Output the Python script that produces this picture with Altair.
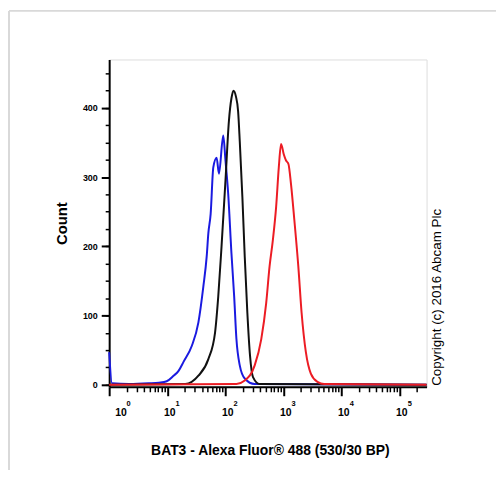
import altair as alt
import pandas as pd

# ---- data ----
blue_x = [1.0, 1.12, 2.2, 4.8, 7.2, 9.8, 12.9, 15.7, 19.1, 26.5, 34.5, 42, 47.9, 51.2, 56.1,
          62.3, 71, 78, 92.4, 101, 112.5, 128, 142.5, 156, 178, 217, 322, 295000]
blue_y = [47, 2, 1, 2, 3, 5, 13, 20, 33, 56, 90, 142, 185, 219, 247,
          314, 328, 305, 360, 324, 276, 190, 128, 66, 28, 9, 1, 0]

black_x = [1, 20.5, 34.5, 51.2, 66.7, 75.9, 86.4, 101, 115.7, 128, 138.7, 152.4, 166.8, 178,
           197.6, 217, 240.6, 267.5, 301, 392, 295000]
black_y = [0, 1, 13, 37, 75, 128, 200, 295, 381, 414, 425, 417, 395, 352,
           271, 185, 104, 42, 11, 1, 0]

red_x = [1, 156, 217, 322, 418, 508, 581, 662, 754, 838, 917, 1020, 1117, 1228, 1360, 1553,
         1818, 2071, 2454, 2988, 3890, 5060, 295000]
red_y = [0, 1, 6, 28, 66, 118, 171, 209, 257, 314, 348, 333, 324, 319, 290, 238,
         171, 104, 47, 16, 4, 1, 0]

decades = [1, 10, 100, 1000, 10000, 100000]
exponents = ["0", "1", "2", "3", "4", "5"]
minor_x = [k * d for d in decades for k in range(2, 10) if k * d < 295000]
y_major = [0, 100, 200, 300, 400]
y_minor = [0, 25, 50, 75, 100, 125, 150, 175, 200, 225, 250, 275, 300, 325, 350, 375, 400, 425, 450]

x_title = "BAT3 - Alexa Fluor® 488 (530/30 BP)"
y_title = "Count"
copyright_text = "Copyright (c) 2016 Abcam Plc"

W, H = 320, 330
FONT = "Liberation Sans"

xscale = alt.Scale(type="log", domain=[1, 295000])
yscale = alt.Scale(domain=[-3, 470], nice=False, zero=False)

def frame(xs, ys):
    return pd.DataFrame({"intensity": xs, "count": ys})

x_major_axis = alt.Axis(values=decades, tickSize=9, tickWidth=2, tickColor="black",
                        labels=False, domainColor="black", domainWidth=2, grid=False,
                        orient="bottom", title=x_title, titleFont=FONT, titleFontSize=14,
                        titleFontWeight="bold", titleColor="black", titleX=162, titleY=64,
                        titleBaseline="middle", titleAlign="center")
y_major_axis = alt.Axis(values=y_major, tickSize=8, tickWidth=2, tickColor="black",
                        labelFont=FONT, labelFontSize=9, labelFontWeight="bold",
                        labelColor="black", labelPadding=4, domainColor="black",
                        domainWidth=2, grid=False, orient="left", title=y_title,
                        titleFont=FONT, titleFontSize=15, titleFontWeight="bold",
                        titleColor="black", titleX=-48, titleY=H / 2, titleAngle=-90,
                        titleBaseline="middle", titleAlign="center")

def line(xs, ys, color, axes=False):
    return alt.Chart(frame(xs, ys)).mark_line(
        strokeWidth=2, color=color, interpolate="monotone", strokeJoin="round").encode(
        x=alt.X("intensity:Q", scale=xscale, axis=x_major_axis if axes else None),
        y=alt.Y("count:Q", scale=yscale, axis=y_major_axis if axes else None),
    )

blue = line(blue_x, blue_y, "#1a1ae0", axes=True)
black = line(black_x, black_y, "#111111")
red = line(red_x, red_y, "#ec1c24")

# minor ticks via second axes
minor_xdf = pd.DataFrame({"intensity": minor_x})
minor_x_layer = alt.Chart(minor_xdf).mark_point(opacity=0).encode(
    x=alt.X("intensity:Q", scale=xscale,
            axis=alt.Axis(values=minor_x, tickSize=5, tickWidth=1.5, tickColor="black",
                          labels=False, domain=False, grid=False, orient="bottom", title=None)),
    y=alt.value(H),
)
minor_ydf = pd.DataFrame({"count": y_minor})
minor_y_layer = alt.Chart(minor_ydf).mark_point(opacity=0).encode(
    y=alt.Y("count:Q", scale=yscale,
            axis=alt.Axis(values=y_minor, tickSize=4, tickWidth=1.5, tickColor="black",
                          labels=False, domain=False, grid=False, orient="left", title=None)),
    x=alt.value(0),
)

lab = pd.DataFrame({"intensity": decades, "base": ["10"] * 6, "exp": exponents})
def labels(cond, dx_base, dx_exp):
    base = alt.Chart(lab).transform_filter(cond).mark_text(
        font=FONT, fontSize=10.5, fontWeight="bold", color="black", baseline="middle",
        align="center", dx=dx_base).encode(
        x=alt.X("intensity:Q", scale=xscale, axis=None), y=alt.value(H + 26), text="base:N")
    ex = alt.Chart(lab).transform_filter(cond).mark_text(
        font=FONT, fontSize=7.5, fontWeight="bold", color="black", baseline="middle",
        align="center", dx=dx_exp).encode(
        x=alt.X("intensity:Q", scale=xscale, axis=None), y=alt.value(H + 17), text="exp:N")
    return [base, ex]

lab_first = labels("datum.intensity == 1", 12, 19.5)
lab_rest = labels("datum.intensity > 1", 2.5, 10.5)

copyright_layer = alt.Chart(pd.DataFrame({"t": [copyright_text]})).mark_text(
    font=FONT, fontSize=13.5, color="black", angle=270, align="left", baseline="middle").encode(
    x=alt.value(W + 11), y=alt.value(H - 1), text="t:N")

empty = pd.DataFrame({"a": [0]})
border_left = alt.Chart(empty).mark_rule(color="#d9d9d9", strokeWidth=2).encode(
    x=alt.value(-101), y=alt.value(-49), y2=alt.value(H + 84))
border_top = alt.Chart(empty).mark_rule(color="#d9d9d9", strokeWidth=2).encode(
    x=alt.value(-101), x2=alt.value(W + 70), y=alt.value(-49))

chart = alt.layer(
    border_left, border_top, minor_x_layer, minor_y_layer, blue, black, red,
    *lab_first, *lab_rest, copyright_layer
).resolve_axis(x="independent", y="independent").properties(
    width=W, height=H,
    autosize=alt.AutoSizeParams(type="none"),
    padding={"left": 102, "top": 50, "right": 70, "bottom": 85},
).configure_view(stroke="#444444", strokeWidth=1).configure(background="white")

chart.save("out.html", embed_options={"renderer": "svg", "actions": False})
